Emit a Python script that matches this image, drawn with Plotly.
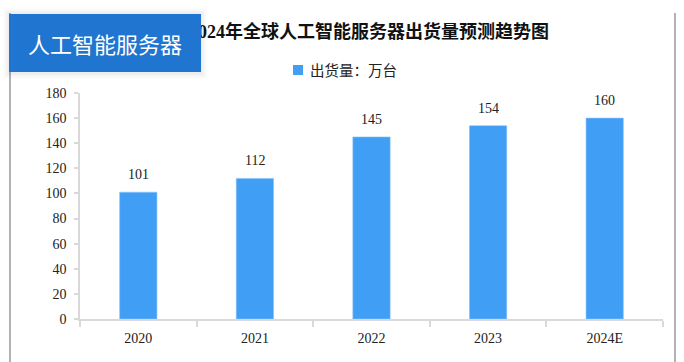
import plotly.graph_objects as go

categories = ["2020", "2021", "2022", "2023", "2024E"]
shipments = [101, 112, 145, 154, 160]
y_ticks = [0, 20, 40, 60, 80, 100, 120, 140, 160, 180]
series_name = "出货量：万台"
chart_title = "2020-2024年全球人工智能服务器出货量预测趋势图"
badge_text = "人工智能服务器"

W, H = 684, 362
L, R, T, B = 80, 21, 93, 43
PW, PH = W - L - R, H - T - B


def px(x):
    return (x - L) / PW


def py(y):
    return (H - B - y) / PH


SERIF = "Liberation Serif, Noto Sans CJK SC, serif"
SANS = "Noto Sans CJK SC, sans-serif"
BAR = "#409EF5"
AXIS = "#D9D9D9"

fig = go.Figure()
fig.add_trace(go.Bar(
    x=categories, y=shipments, name=series_name,
    marker=dict(color=BAR, line=dict(color="#8CC5F8", width=0.6)),
    showlegend=False, hoverinfo="x+y",
))

shapes = []
# outer frame lines
for xx in (10, 675):
    shapes.append(dict(type="line", xref="paper", yref="paper",
                       x0=px(xx), x1=px(xx), y0=py(13), y1=py(H + 2),
                       line=dict(color="#9A9A9A", width=1.5), layer="above"))
# badge shadow
for i, a in enumerate([0.012, 0.016, 0.02, 0.025]):
    d = 6 - i * 1.5
    shapes.append(dict(type="rect", xref="paper", yref="paper",
                       x0=px(9 - d), x1=px(201 + d), y0=py(14 - d), y1=py(72 + d + 1),
                       fillcolor=f"rgba(0,0,0,{a})", line=dict(width=0), layer="above"))
# legend swatch
shapes.append(dict(type="rect", xref="paper", yref="paper",
                   x0=px(293), x1=px(303), y0=py(65), y1=py(75),
                   fillcolor=BAR, line=dict(width=0)))

annotations = [
    dict(text=f"<b>{chart_title}</b>", xref="paper", yref="paper",
         x=px(551), y=py(32), xanchor="right", yanchor="middle", showarrow=False,
         font=dict(family=SERIF, size=18, color="#111111")),
    dict(text=series_name, xref="paper", yref="paper",
         x=px(308), y=py(70), xanchor="left", yanchor="middle", showarrow=False,
         font=dict(family=SANS, size=14.5, color="#222222")),
]
for i, v in enumerate(shipments):
    annotations.append(dict(text=str(v), x=i, y=v, xref="x", yref="y",
                            yanchor="bottom", yshift=8, showarrow=False,
                            font=dict(family=SERIF, size=14, color="#222222")))
# badge drawn last so it covers the start of the title
annotations.append(dict(
    text=badge_text, xref="paper", yref="paper",
    x=px(9), y=py(14), xanchor="left", yanchor="top", showarrow=False,
    width=192, height=58, borderpad=0, borderwidth=0,
    bgcolor="#1F75CF", align="center", valign="middle",
    font=dict(family=SANS, size=22, color="#FFFFFF"),
))

fig.update_layout(
    width=W, height=H,
    margin=dict(l=L, r=R, t=T, b=B, pad=0),
    paper_bgcolor="white", plot_bgcolor="white",
    bargap=0.68,
    shapes=shapes, annotations=annotations,
    showlegend=False,
    xaxis=dict(
        type="category", categoryorder="array", categoryarray=categories,
        range=[-0.5, len(categories) - 0.5], automargin=False,
        showline=True, linecolor=AXIS, linewidth=1.5,
        ticks="outside", tickson="boundaries", ticklen=6, tickcolor=AXIS, tickwidth=1.5,
        tickangle=0,
        tickfont=dict(family=SERIF, size=14, color="#222222"),
        ticklabelstandoff=5, showgrid=False, zeroline=False,
    ),
    yaxis=dict(
        range=[0, 180], tickvals=y_ticks, showline=True, linecolor=AXIS, linewidth=1.5,
        automargin=False,
        ticks="outside", ticklen=4, tickcolor=AXIS, tickwidth=1.5,
        tickfont=dict(family=SERIF, size=14, color="#222222"),
        ticklabelstandoff=5, showgrid=False, zeroline=False,
    ),
)

fig.write_html(
    "out.html",
    config={"displayModeBar": False},
    post_script="document.body.style.margin='0';document.body.style.overflow='hidden';",
)
